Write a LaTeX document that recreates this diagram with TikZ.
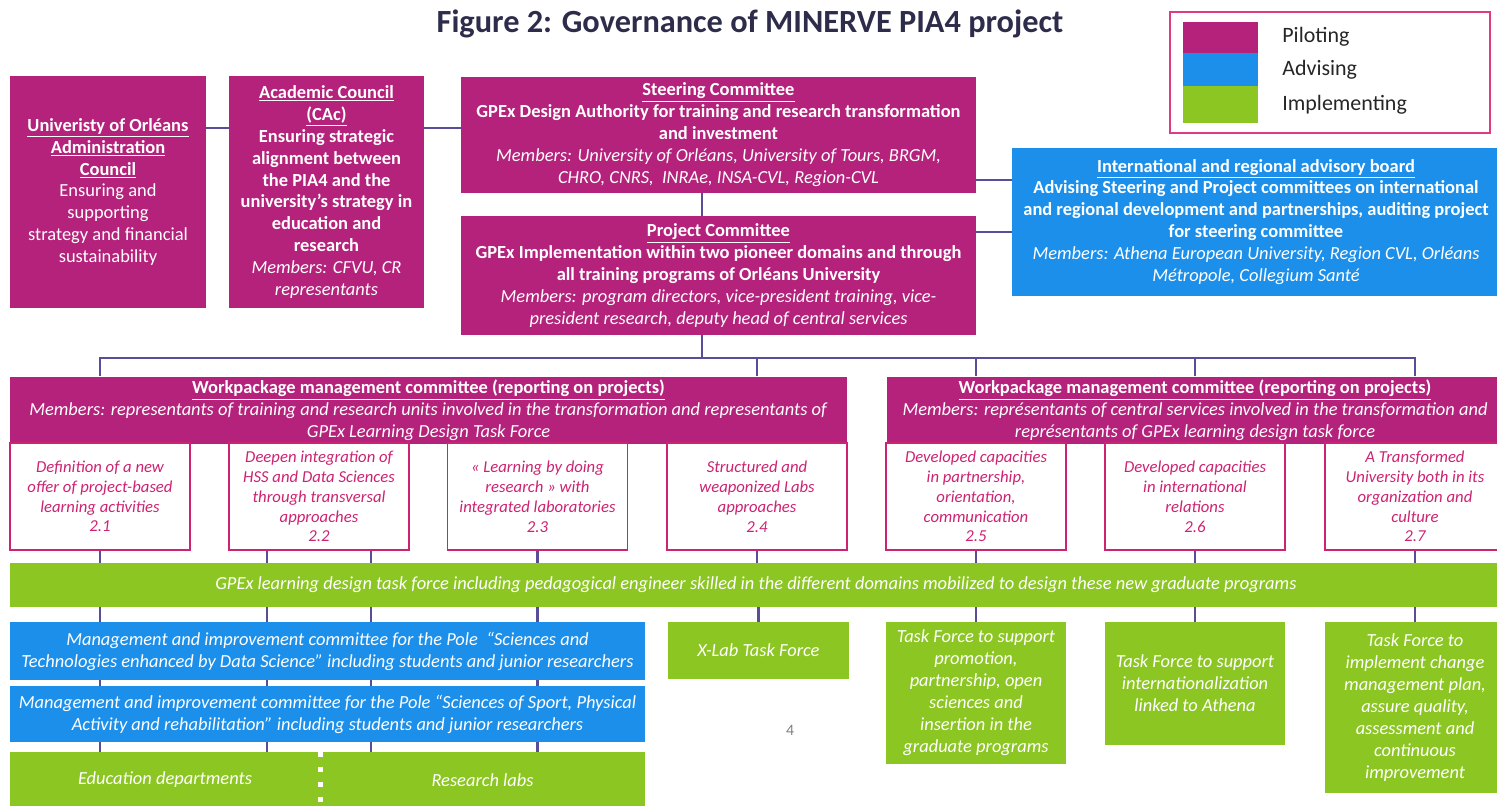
\documentclass[tikz,border=0pt]{standalone}
\usepackage{fontspec}
\setmainfont{Carlito}

\definecolor{pilotpink}{RGB}{180,34,124}
\definecolor{adviseblue}{RGB}{28,143,234}
\definecolor{implgreen}{RGB}{140,198,34}
\definecolor{taskpink}{RGB}{205,35,115}
\definecolor{legendpink}{RGB}{222,60,130}
\definecolor{linkpurple}{RGB}{88,78,152}
\definecolor{titlenavy}{RGB}{45,45,75}

\newcommand{\boxhead}[1]{\textbf{\underline{#1}}}

\begin{document}
\begin{tikzpicture}[x=0.02cm, y=-0.02cm,
    box/.style={rectangle, inner sep=2pt, align=center, text=white, font=\fontsize{10.5}{12.5}\selectfont},
    pilot/.style={box, fill=pilotpink},
    advise/.style={box, fill=adviseblue, font=\itshape\fontsize{10.5}{12.5}\selectfont},
    implement/.style={box, fill=implgreen, font=\itshape\fontsize{10.5}{12.5}\selectfont},
    task/.style={rectangle, draw=taskpink, line width=0.7pt, fill=white, text=taskpink, align=center, inner sep=1pt, minimum width=3.6cm, minimum height=2.14cm, font=\itshape\fontsize{9.5}{11.3}\selectfont},
    link/.style={draw=linkpurple, line width=1.6pt},
    swatch/.style={minimum width=1.5cm, inner sep=0pt},
    key/.style={right, inner sep=0pt, text=black!85, font=\fontsize{12.5}{14}\selectfont}
]
    \useasboundingbox (0,0) rectangle (1497,805);

    % Title and legend
    \node[text=titlenavy, font=\bfseries\fontsize{18.4}{21}\selectfont] (title) at (750,24) {Figure 2: Governance of MINERVE PIA4 project};
    \node[draw=legendpink, line width=1pt, minimum width=6.4cm, minimum height=2.42cm, inner sep=0pt] (legend) at (1330,72.5) {};
    \node[swatch, fill=pilotpink, minimum height=0.62cm] (swpilot) at (1220.5,37.5) {};
    \node[swatch, fill=adviseblue, minimum height=0.66cm] (swadvise) at (1220.5,69.5) {};
    \node[swatch, fill=implgreen, minimum height=0.74cm] (swimpl) at (1220.5,104.5) {};
    \node[key] (kpilot) at (1282,37) {Piloting};
    \node[key] (kadvise) at (1282,70) {Advising};
    \node[key] (kimpl) at (1282,105) {Implementing};

    % Councils and committees
    \node[pilot, minimum width=3.92cm, minimum height=4.64cm] (admin) at (108,192)
        {\boxhead{Univeristy of Orléans}\\ \boxhead{Administration}\\ \boxhead{Council}\\ Ensuring and\\ supporting\\ strategy and financial\\ sustainability};
    \node[pilot, minimum width=3.9cm, minimum height=4.64cm] (cac) at (326.5,192)
        {\boxhead{Academic Council}\\ \boxhead{(CAc)}\\ \textbf{Ensuring strategic}\\ \textbf{alignment between}\\ \textbf{the PIA4 and the}\\ \textbf{university’s strategy in}\\ \textbf{education and}\\ \textbf{research}\\ \textit{Members: CFVU, CR}\\ \textit{representants}};
    \node[pilot, minimum width=10.3cm, minimum height=2.32cm] (steer) at (718.5,135)
        {\boxhead{Steering Committee}\\ \textbf{GPEx Design Authority for training and research transformation}\\ \textbf{and investment}\\ \textit{Members: University of Orléans, University of Tours, BRGM,}\\ \textit{CHRO, CNRS,\ \ INRAe, INSA-CVL, Region-CVL}};
    \node[pilot, minimum width=10.3cm, minimum height=2.38cm] (proj) at (718.5,275.5)
        {\boxhead{Project Committee}\\ \textbf{GPEx Implementation within two pioneer domains and through}\\ \textbf{all training programs of Orléans University}\\ \textit{Members: program directors, vice-president training, vice-}\\ \textit{president research, deputy head of central services}};
    \node[box, fill=adviseblue, minimum width=9.76cm, minimum height=2.96cm] (adv) at (1256,222)
        {\boxhead{International and regional advisory board}\\ \textbf{Advising Steering and Project committees on international}\\ \textbf{and regional development and partnerships, auditing project}\\ \textbf{for steering committee}\\ \textit{Members: Athena European University, Region CVL, Orléans}\\ \textit{Métropole, Collegium Santé}};

    % Workpackage committees
    \node[pilot, minimum width=16.74cm, minimum height=1.3cm] (wpl) at (428.5,410.5)
        {\boxhead{Workpackage management committee (reporting on projects)}\\ \textit{Members: representants of training and research units involved in the transformation and representants of}\\ \textit{GPEx Learning Design Task Force}};
    \node[pilot, minimum width=12.32cm, minimum height=1.3cm] (wpr) at (1195,410.5)
        {\boxhead{Workpackage management committee (reporting on projects)}\\ \textit{Members: représentants of central services involved in the transformation and}\\ \textit{représentants of GPEx learning design task force}};

    % Workpackages
    \node[task] (t21) at (100,496.5) {Definition of a new\\ offer of project-based\\ learning activities\\ 2.1};
    \node[task] (t22) at (319,496.5) {Deepen integration of\\ HSS and Data Sciences\\ through transversal\\ approaches\\ 2.2};
    \node[task] (t23) at (537.5,496.5) {« Learning by doing\\ research » with\\ integrated laboratories\\ 2.3};
    \node[task] (t24) at (757,496.5) {Structured and\\ weaponized Labs\\ approaches\\ 2.4};
    \node[task] (t25) at (976,496.5) {Developed capacities\\ in partnership,\\ orientation,\\ communication\\ 2.5};
    \node[task] (t26) at (1195,496.5) {Developed capacities\\ in international\\ relations\\ 2.6};
    \node[task] (t27) at (1415,496.5) {A Transformed\\ University both in its\\ organization and\\ culture\\ 2.7};

    % Task force band
    \node[implement, minimum width=29.84cm, minimum height=0.88cm] (band) at (756,585)
        {GPEx learning design task force including pedagogical engineer skilled in the different domains mobilized to design these new graduate programs};

    % Poles and task forces
    \node[advise, minimum width=12.7cm, minimum height=1.16cm] (blue1) at (327.5,651)
        {Management and improvement committee for the Pole\ \ “Sciences and\\ Technologies enhanced by Data Science” including students and junior researchers};
    \node[advise, minimum width=12.7cm, minimum height=1.12cm] (blue2) at (327.5,714)
        {Management and improvement committee for the Pole “Sciences of Sport, Physical\\ Activity and rehabilitation” including students and junior researchers};
    \node[implement, minimum width=6.2cm, minimum height=1.12cm] (edu) at (165,780) {Education departments};
    \node[implement, minimum width=6.5cm, minimum height=1.12cm] (labs) at (482.5,780) {Research labs};
    \node[implement, minimum width=3.62cm, minimum height=1.14cm] (xlab) at (758.5,650.5) {X-Lab Task Force};
    \node[implement, minimum width=3.62cm, minimum height=2.84cm] (tfprom) at (976,693)
        {Task Force to support\\ promotion,\\ partnership, open\\ sciences and\\ insertion in the\\ graduate programs};
    \node[implement, minimum width=3.6cm, minimum height=2.46cm] (tfint) at (1195,683.5)
        {Task Force to support\\ internationalization\\ linked to Athena};
    \node[implement, minimum width=3.6cm, minimum height=3.42cm] (tfchg) at (1415,707.5)
        {Task Force to\\ implement change\\ management plan,\\ assure quality,\\ assessment and\\ continuous\\ improvement};
    \node[text=black!50, font=\fontsize{9}{10}\selectfont] (pagenum) at (790,730) {4};

    % Dotted split of the bottom band
    \draw[white, line width=0.1cm, dash pattern=on 0.1cm off 0.2cm] (edu.north east) -- (edu.south east);

    % Connectors
    \coordinate (rowA) at (0,128);
    \coordinate (rowB) at (0,180);
    \coordinate (rowC) at (0,232);
    \coordinate (trunk) at (702,0);
    \coordinate (bus) at (0,358);
    \coordinate (colB) at (267,0);
    \coordinate (colC) at (371,0);

    \draw[link] (admin.east |- rowA) -- (cac.west |- rowA);
    \draw[link] (cac.east |- rowA) -- (steer.west |- rowA);
    \draw[link] (steer.east |- rowB) -- (adv.west |- rowB);
    \draw[link] (proj.east |- rowC) -- (adv.west |- rowC);
    \draw[link] (steer.south -| trunk) -- (proj.north -| trunk);
    \draw[link] (proj.south -| trunk) -- (trunk |- bus);
    \draw[link] (t21 |- wpl.north) -- (t21 |- bus) -- (t27 |- bus) -- (t27 |- wpr.north);
    \draw[link] (t24 |- bus) -- (t24 |- wpl.north);
    \draw[link] (t25 |- bus) -- (t25 |- wpr.north);
    \draw[link] (t26 |- bus) -- (t26 |- wpr.north);

    \draw[link] (t21.south) -- (t21 |- band.north);
    \draw[link] (colB |- t22.south) -- (colB |- band.north);
    \draw[link] (colC |- t22.south) -- (colC |- band.north);
    \draw[link] (t23.south) -- (t23 |- band.north);
    \draw[link] (t24.south) -- (t24 |- band.north);
    \draw[link] (t25.south) -- (t25 |- band.north);
    \draw[link] (t26.south) -- (t26 |- band.north);
    \draw[link] (t27.south) -- (t27 |- band.north);

    \draw[link] (t21 |- band.south) -- (t21 |- blue1.north);
    \draw[link] (colB |- band.south) -- (colB |- blue1.north);
    \draw[link] (colC |- band.south) -- (colC |- blue1.north);
    \draw[link] (t23 |- band.south) -- (t23 |- blue1.north);
    \draw[link] (xlab.north |- band.south) -- (xlab.north);
    \draw[link] (tfprom.north |- band.south) -- (tfprom.north);
    \draw[link] (tfint.north |- band.south) -- (tfint.north);
    \draw[link] (tfchg.north |- band.south) -- (tfchg.north);

    \draw[link] (t21 |- blue1.south) -- (t21 |- blue2.north);
    \draw[link] (colB |- blue1.south) -- (colB |- blue2.north);
    \draw[link] (colC |- blue1.south) -- (colC |- blue2.north);
    \draw[link] (t23 |- blue1.south) -- (t23 |- blue2.north);
    \draw[link] (t21 |- blue2.south) -- (t21 |- edu.north);
    \draw[link] (colB |- blue2.south) -- (colB |- edu.north);
    \draw[link] (colC |- blue2.south) -- (colC |- labs.north);
    \draw[link] (t23 |- blue2.south) -- (t23 |- labs.north);
\end{tikzpicture}
\end{document}
